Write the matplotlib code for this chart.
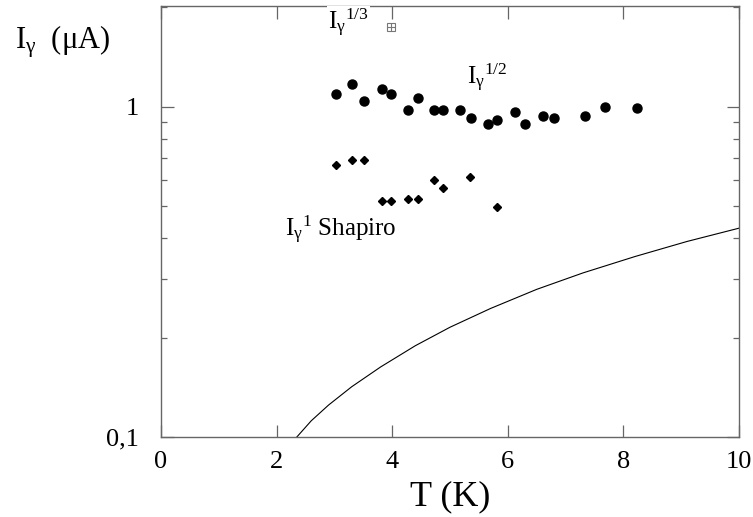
import matplotlib
matplotlib.use("Agg")
import matplotlib.pyplot as plt
from matplotlib.ticker import LogLocator, NullFormatter

plt.rcParams['font.family'] = ['Liberation Serif', 'DejaVu Serif']
plt.rcParams['mathtext.fontset'] = 'custom'
plt.rcParams['mathtext.rm'] = 'Liberation Serif'
plt.rcParams['mathtext.it'] = 'Liberation Serif'
plt.rcParams['mathtext.default'] = 'rm'

# I_gamma^(1/2) points (circles)
t_half = [3.03, 3.30, 3.51, 3.82, 3.98, 4.27, 4.44, 4.72, 4.88, 5.18,
          5.36, 5.65, 5.81, 6.12, 6.30, 6.61, 6.80, 7.33, 7.69, 8.23]
i_half = [1.095, 1.17, 1.04, 1.13, 1.09, 0.977, 1.06, 0.977, 0.977, 0.977,
          0.924, 0.888, 0.913, 0.964, 0.886, 0.935, 0.928, 0.935, 1.00, 0.99]

# I_gamma^1 Shapiro points (diamonds)
t_one = [3.03, 3.30, 3.51, 3.82, 3.98, 4.27, 4.44, 4.72, 4.88, 5.35, 5.81]
i_one = [0.667, 0.688, 0.692, 0.520, 0.520, 0.526, 0.526, 0.601, 0.566, 0.612, 0.499]

# I_gamma^(1/3) point
t_third = [3.98]
i_third = [1.75]

# theory curve
t_curve = [2.35, 2.6, 2.9, 3.3, 3.8, 4.4, 5.0, 5.7, 6.5, 7.3, 8.2, 9.1, 10.0]
i_curve = [0.100, 0.112, 0.125, 0.142, 0.163, 0.189, 0.215, 0.245, 0.280,
           0.314, 0.352, 0.391, 0.429]

fig = plt.figure(figsize=(7.53, 5.17), dpi=100)
ax = fig.add_axes([161/753, 1-437/517, (739-161)/753, (437-6)/517])

ax.plot(t_curve, i_curve, color='black', lw=0.8)
ax.plot(t_half, i_half, 'o', color='black', ms=6.5)
ax.plot(t_one, i_one, 'D', color='black', ms=4.5)
ax.plot(t_third, i_third, 's', mfc='none', mec='#777777', ms=6, mew=0.8)
ax.plot(t_third, i_third, '+', color='#777777', ms=6, mew=0.8)

ax.set_yscale('log')
ax.set_xlim(0, 10)
ax.set_ylim(0.1, 2.02)
ax.set_xticks([0, 2, 4, 6, 8, 10])
ax.set_yticks([0.1, 1], labels=['0,1', '1'])
ax.yaxis.set_minor_locator(LogLocator(base=10, subs=[2, 3, 4, 5, 6, 7, 8, 9]))
ax.yaxis.set_minor_formatter(NullFormatter())

ax.tick_params(which='both', direction='in', top=True, right=True, color='#666666')
ax.tick_params(which='major', length=9, width=0.9, labelsize=19)
ax.tick_params(which='minor', length=4.5, width=0.9)
ax.tick_params(axis='y', which='major', pad=16)
ax.tick_params(axis='x', which='major', pad=10)
for s in ax.spines.values():
    s.set_color('#666666')
    s.set_linewidth(1.0)

ax.set_xlabel('T (K)', fontsize=26, labelpad=5)
fig.text(15/753, 1-49/517, r'I$_{\gamma}$  (μA)', fontsize=22, ha='left', va='baseline')

ax.text(2.89, 1.71, r'$I_\gamma{}^{1/3}$', fontsize=18, ha='left', va='baseline',
        bbox=dict(facecolor='white', edgecolor='none', pad=1), zorder=5)
ax.text(5.29, 1.166, r'$I_\gamma{}^{1/2}$', fontsize=18, ha='left', va='baseline')
ax.text(2.14, 0.404, r'$I_\gamma{}^{1}$ Shapiro', fontsize=18, ha='left', va='baseline')

fig.savefig('out.png', dpi=100)
